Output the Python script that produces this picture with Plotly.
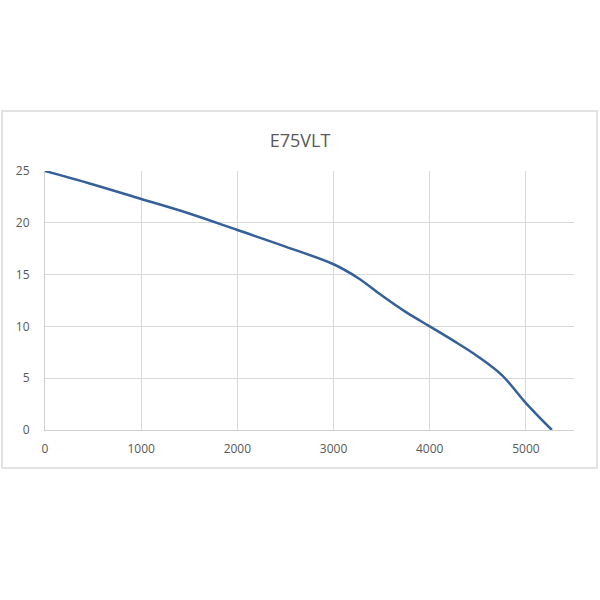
import plotly.graph_objects as go

flow = [0, 500, 1000, 1500, 2000, 2500, 3000, 3250, 3500, 3750, 4000, 4250, 4500, 4750, 5000, 5270]
pressure = [25, 23.7, 22.3, 20.9, 19.3, 17.7, 16.0, 14.7, 13.0, 11.4, 10.0, 8.6, 7.1, 5.3, 2.6, 0]
x_ticks = [0, 1000, 2000, 3000, 4000, 5000]
y_ticks = [0, 5, 10, 15, 20, 25]
title = "E75VLT"

fig = go.Figure()
fig.add_trace(go.Scatter(x=flow, y=pressure, mode="lines",
                         line=dict(color="#35609a", width=2.5, shape="spline", smoothing=1.0),
                         hoverinfo="skip"))

L, R, T, B = 45, 26, 171, 170
W = H = 600
pw, ph = W - L - R, H - T - B
fig.add_shape(type="rect", xref="paper", yref="paper",
              x0=(2 - L) / pw, x1=(597 - L) / pw,
              y0=(H - B - 468) / ph, y1=(H - B - 111) / ph,
              line=dict(color="#d9d9d9", width=1.5), fillcolor="rgba(0,0,0,0)", layer="below")

fig.update_layout(
    width=W, height=H,
    margin=dict(l=L, r=R, t=T, b=B),
    paper_bgcolor="white", plot_bgcolor="white",
    showlegend=False,
    font=dict(family="Open Sans, sans-serif", color="#595959", size=12),
    title=dict(text=title, x=0.5, xanchor="center", y=(H - 141) / H, yanchor="middle",
               font=dict(size=18, color="#595959")),
)
fig.update_xaxes(range=[0, 5500], tickvals=x_ticks, showgrid=True, gridcolor="#d9d9d9",
                 zeroline=False, showline=True, linecolor="#d0d0d0", ticks="", ticklabelstandoff=8)
fig.update_yaxes(range=[0, 25], tickvals=y_ticks, showgrid=True, gridcolor="#d9d9d9",
                 zeroline=False, showline=True, linecolor="#d0d0d0", ticks="", ticklabelstandoff=12)

fig.write_html("out.html", config={"displayModeBar": False},
               post_script="document.body.style.margin='0';")
